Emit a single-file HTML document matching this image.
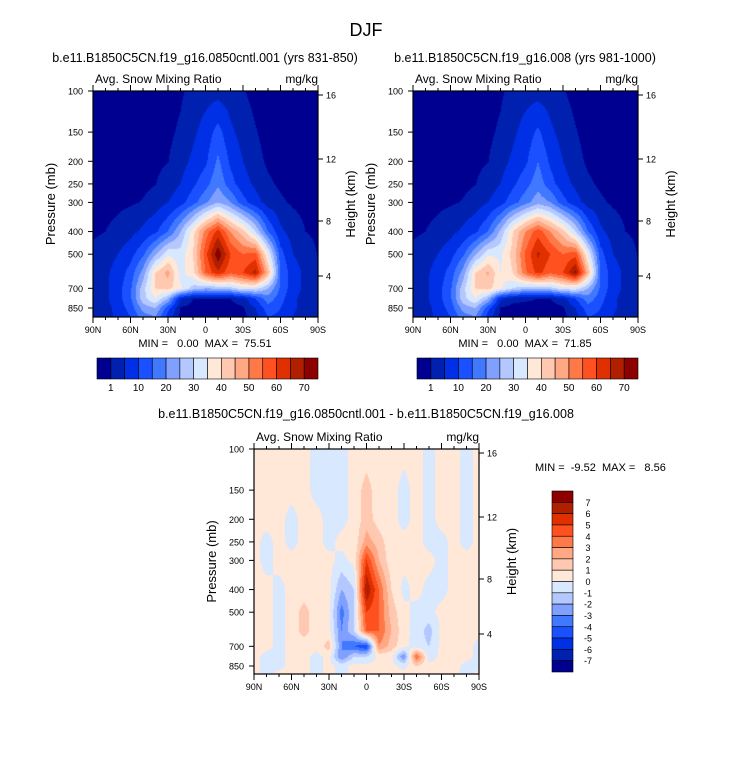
<!DOCTYPE html>
<html><head><meta charset="utf-8">
<style>
html,body{margin:0;padding:0;background:#fff;}
#root{position:relative;width:733px;height:770px;overflow:hidden;font-family:"Liberation Sans",Arial,sans-serif;}
canvas{position:absolute;}
svg{position:absolute;left:0;top:0;}
text{font-family:"Liberation Sans",Arial,sans-serif;fill:#000;white-space:pre;}
</style></head>
<body>
<div id="root">
<canvas id="c1" width="225" height="226" style="left:93px;top:91px"></canvas>
<canvas id="c2" width="225" height="226" style="left:413px;top:91px"></canvas>
<canvas id="c3" width="225" height="225" style="left:254px;top:449px"></canvas>
<svg id="ov" width="733" height="770"></svg>
</div>
<script>
// ---- data ----
const pressureLevels=[100,150,200,250,300,400,500,600,700,775,850,925];
const latsFine=[90,80,70,60,50,40,30,20,10,0,-10,-20,-30,-40,-50,-60,-70,-80,-90];
const snowCtl=[
[0,0,0,0,0,0,0,0.5,2,3,3,2.5,1.2,0,0,0,0,0,0],
[0,0,0,0,0,0,0.3,1.5,4,7,12,6,3,1.2,0,0,0,0,0],
[0,0,0,0,0,0.3,0.9,3,6,9,16,9,5,2,0.5,0,0,0,0],
[0,0,0,0,0.3,0.9,2.5,5,9,13,19,12,7,4,1.5,0.5,0,0,0],
[0,0,0.3,0.6,1.2,2.5,5,8,13,19,25,20,12,7,3,1.5,0.5,0,0],
[0.4,1,2,3.5,6,9,15,25,38,52,62,50,42,30,15,6,3,1,0.3],
[2,3,5,8,14,24,34,32,40,58,74,60,55,57,35,12,5,3,0.8],
[3,4,7,12,22,40,47,33,38,55,64,56,60,67,45,15,7,4,1.5],
[3,4,8,14,28,40,42,36,28,25,26,28,33,32,25,14,7,4,3],
[3,4,8,14,28,35,25,5,1,1,1,1,3,10,18,12,6,3,2],
[3,3,7,12,22,25,12,0.5,0,0,0,0,0.5,5,13,10,6,3,1],
[2,3,6,10,18,20,8,0,0,0,0,0,0,3,10,9,5,2,1]];
const snowExp=[
[0,0,0,0,0,0,0,0.5,2,3,3,2.5,1.2,0,0,0,0,0,0],
[0,0,0,0,0,0,0.3,1.5,4,7,11,6,3,1.2,0,0,0,0,0],
[0,0,0,0,0,0.3,0.9,3,6,9,15,9,5,2,0.5,0,0,0,0],
[0,0,0,0,0.3,0.9,2.5,5,9,13,18,12,7,4,1.5,0.5,0,0,0],
[0,0,0.3,0.6,1.2,2.5,5,8,13,18,23,20,12,7,3,1.5,0.5,0,0],
[0.4,1,2,3.5,6,9,15,26,40,50,58,50,42,30,15,6,3,1,0.3],
[2,3,5,8,14,24,34,34,42,56,66,60,55,58,35,12,5,3,0.8],
[3,4,7,12,22,40,46,35,40,54,62,56,60,71,45,15,7,4,1.5],
[3,4,8,14,28,40,42,36,30,27,27,28,33,33,25,14,7,4,3],
[3,4,8,14,28,35,25,6,2,1.5,1,1,3,10,18,12,6,3,2],
[3,3,7,12,22,25,12,0.5,0,0,0,0,0.5,5,13,10,6,3,1],
[2,3,6,10,18,20,8,0,0,0,0,0,0,3,10,9,5,2,1]];
const snowDiff=[
[.3,.3,.3,.3,.3,-.3,-.3,-.3,.3,.3,.3,.3,.3,.3,-.3,.3,.3,-.3,.3],
[.3,.3,.3,.3,.3,-.3,-.3,-.3,.3,1.5,.3,.3,-.3,.3,-.3,.3,.3,-.3,.3],
[.3,.3,.3,-.3,.3,.3,-.3,-.3,.3,1.5,.5,.3,-.3,.3,-.3,.3,.3,-.3,.3],
[.3,-.3,.3,-.3,.3,.3,-.3,.3,.3,2.5,1.5,.3,.3,.3,-.3,-.3,.3,-.3,.3],
[.3,-.3,.3,.3,.3,.3,.3,-.3,.3,5,2,.3,.3,.3,.3,-.3,.3,.3,.3],
[.3,.3,-.3,.3,.3,.3,.3,-2,-1,7,4,1,-.3,.3,-.3,-.3,.3,.3,.3],
[.3,.3,-.3,.3,1.5,.3,.3,-3.5,-1,5,4,1.5,.3,-.3,-.3,.3,.3,.3,.3],
[.3,.3,-.3,.3,1.5,.3,.3,-3,-1,4,4,2,.3,-.3,-1.5,.3,.3,.3,.3],
[.3,.3,-.3,.3,.3,.3,1.5,-3,-4,-5,3,1.5,.3,-.5,-1,.3,.3,.3,-.3],
[.3,-.3,-.3,.3,.3,-.3,.3,-3,-1,-1,.3,.3,-3,4,-.5,.3,.3,.3,-.3],
[.3,-.3,-.3,.3,.3,-.3,.3,-.3,.3,.3,.3,.3,-.3,1,.3,.3,.3,-.3,-.3],
[.3,-.3,.3,.3,.3,-.3,.3,-.3,.3,.3,.3,.3,.3,.3,.3,.3,.3,-.3,.3]];
const snowLevels=[1,5,10,15,20,25,30,35,40,45,50,55,60,65,70];
const diffLevels=[-7,-6,-5,-4,-3,-2,-1,0,1,2,3,4,5,6,7];
const pTicks=[100,150,200,250,300,400,500,700,850];
const latTickLabels=["90N","60N","30N","0","30S","60S","90S"];
const heightTicks=[16,12,8,4];
const heightOffsets=[4,68,130,185];
const snowBarLabels=["1","10","20","30","40","50","60","70"];
const diffBarLabels=["7","6","5","4","3","2","1","0","-1","-2","-3","-4","-5","-6","-7"];
const palette=["#000090","#0020b0","#0030e6","#1a50ff","#4078ff","#80a0ff","#b4c8ff","#d8e8ff","#ffe8d8","#ffc8b0","#ffa884","#ff7848","#ff5020","#e03000","#b02000","#8c0000"];

// ---- scales ----
const PH=217;
function yP(p,top){return top+Math.log(p/100)/Math.log(8.5)*PH;}
function xLat(lat,left){return left+(90-lat)*225/180;}
function pFromY(dy){return 100*Math.pow(8.5,dy/PH);}
function sample(grid,lats,lat,p){
  const lp=Math.log(p);
  let r=0;while(r<pressureLevels.length-2&&Math.log(pressureLevels[r+1])<lp)r++;
  let tr=(lp-Math.log(pressureLevels[r]))/(Math.log(pressureLevels[r+1])-Math.log(pressureLevels[r]));
  tr=Math.max(0,Math.min(1,tr));
  let c=0;while(c<lats.length-2&&lats[c+1]>lat)c++;
  let tc=(lats[c]-lat)/(lats[c]-lats[c+1]);tc=Math.max(0,Math.min(1,tc));
  const a=grid[r][c],b=grid[r][c+1],d=grid[r+1][c],e=grid[r+1][c+1];
  return (a*(1-tc)+b*tc)*(1-tr)+(d*(1-tc)+e*tc)*tr;
}
function colorIdx(v,levels){let i=0;while(i<levels.length&&v>=levels[i])i++;return i;}
function hex(h){return [parseInt(h.substr(1,2),16),parseInt(h.substr(3,2),16),parseInt(h.substr(5,2),16)];}
const rgb=palette.map(hex);
function drawField(id,grid,lats,levels){
  const cv=document.getElementById(id),ctx=cv.getContext('2d');
  const W=cv.width,H=cv.height,img=ctx.createImageData(W,H);
  for(let y=0;y<H;y++){const p=pFromY(y+0.5);
    for(let x=0;x<W;x++){const lat=90-(x+0.5)*180/225;
      const v=sample(grid,lats,lat,p);const c=rgb[colorIdx(v,levels)];
      const k=(y*W+x)*4;img.data[k]=c[0];img.data[k+1]=c[1];img.data[k+2]=c[2];img.data[k+3]=255;}}
  ctx.putImageData(img,0,0);
}
drawField('c1',snowCtl,latsFine,snowLevels);
drawField('c2',snowExp,latsFine,snowLevels);
drawField('c3',snowDiff,latsFine,diffLevels);

// ---- overlay ----
const NS="http://www.w3.org/2000/svg",ov=document.getElementById('ov');
function T(x,y,s,size,anchor,name,extra){const t=document.createElementNS(NS,'text');
  t.setAttribute('x',x);t.setAttribute('y',y);t.setAttribute('font-size',size);
  t.setAttribute('text-anchor',anchor||'start');if(extra)t.setAttribute('transform',extra);
  t.setAttributeNS("http://www.w3.org/XML/1998/namespace","xml:space","preserve");
  t.textContent=s;
  
  
  ov.appendChild(t);return t;}
function L(x1,y1,x2,y2,name,w){const l=document.createElementNS(NS,'line');
  l.setAttribute('x1',x1);l.setAttribute('y1',y1);l.setAttribute('x2',x2);l.setAttribute('y2',y2);
  l.setAttribute('stroke','#000');l.setAttribute('stroke-width',w||1);
  
  
  ov.appendChild(l);}
function R(x,y,w,h,fill,name){const r=document.createElementNS(NS,'rect');
  r.setAttribute('x',x);r.setAttribute('y',y);r.setAttribute('width',w);r.setAttribute('height',h);
  r.setAttribute('fill',fill);r.setAttribute('stroke','#000');r.setAttribute('stroke-width',fill==='none'?1.2:0.6);
  
  
  ov.appendChild(r);}

T(366,36,"DJF",18,'middle','main-title');
function axes(left,top,H,title,hasTitle){
  const right=left+225,bottom=top+H;
  if(hasTitle)T(left+112,62,title,12.5,'middle','panel-title');
  T(left+2,top-8,"Avg. Snow Mixing Ratio",12,'start','variable-label');
  T(right,top-8,"mg/kg",12,'end','units-label');
  R(left,top,225,H,'none','plot-frame');
  pTicks.forEach(p=>{const y=yP(p,top);L(left-5,y,left,y,'y-tick');T(left-10,y+3.5,String(p),9,'end','y-tick-label');});
  heightTicks.forEach((h,i)=>{const y=top+heightOffsets[i];L(right,y,right+5,y,'height-tick');T(right+8,y+3.5,String(h),9,'start','height-tick-label');});
  for(let lat=90;lat>=-90;lat-=10){const x=xLat(lat,left);const major=lat%30===0;
    L(x,bottom,x,bottom+(major?6:3),'x-tick');L(x,top,x,top-(major?6:3),'x-tick-top');}
  latTickLabels.forEach((s,i)=>T(xLat(90-30*i,left),bottom+16,s,9,'middle','x-tick-label'));
  T(0,0,"Pressure (mb)",13,'middle','y-axis-title',`translate(${left-38},${top+H/2}) rotate(-90)`);
  T(0,0,"Height (km)",13,'middle','right-axis-title',`translate(${right+37},${top+H/2}) rotate(-90)`);
}
axes(93,91,226,"b.e11.B1850C5CN.f19_g16.0850cntl.001 (yrs 831-850)",true);
axes(413,91,226,"b.e11.B1850C5CN.f19_g16.008 (yrs 981-1000)",true);
axes(254,449,225,"",false);
T(366,418,"b.e11.B1850C5CN.f19_g16.0850cntl.001 - b.e11.B1850C5CN.f19_g16.008",12.5,'middle','diff-title');
T(205,347,"MIN =   0.00  MAX =  75.51",11,'middle','minmax-label');
T(525,347,"MIN =   0.00  MAX =  71.85",11,'middle','minmax-label');
T(535,471,"MIN =  -9.52  MAX =   8.56",11,'start','minmax-label');

function hbar(left){const w=221/16;
  palette.forEach((c,i)=>R(left+i*w,358,w,21,c,'colorbar-box'));
  snowBarLabels.forEach((s,i)=>T(left+(2*i+1)*w,391,s,10,'middle','colorbar-label'));}
hbar(97);hbar(417);
const vh=181/16;
palette.slice().reverse().forEach((c,i)=>R(552,491+i*vh,21,vh,c,'colorbar-box'));
diffBarLabels.forEach((s,i)=>T(588,491+(i+1)*vh+3.5,s,9,'middle','colorbar-label'));
</script>
</body></html>
